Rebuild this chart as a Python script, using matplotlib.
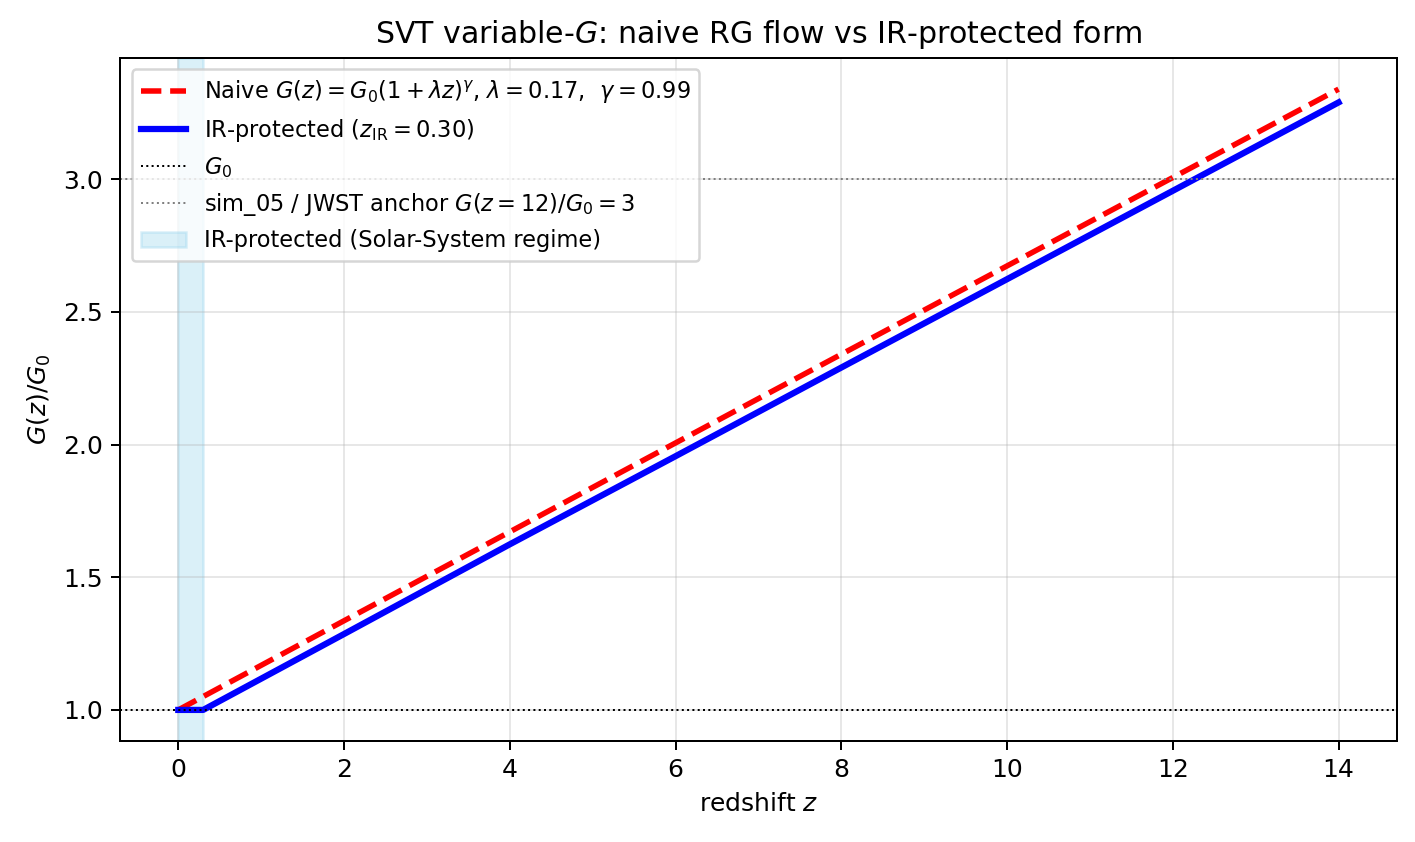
import matplotlib
matplotlib.use("Agg")
import matplotlib.pyplot as plt

# values
z_naive = [0, 2, 4, 6, 8, 10, 12, 14]
G_naive = [1.0, 1.336, 1.671, 2.006, 2.340, 2.673, 3.006, 3.339]

z_ir = [0, 0.3, 2, 4, 6, 8, 10, 12, 14]
G_ir = [1.0, 1.0, 1.286, 1.624, 1.956, 2.290, 2.623, 2.956, 3.289]

lam = 0.17
gam = 0.99
z_IR = 0.30
G_anchor = 3.0

DPI = 180
fig, ax = plt.subplots(figsize=(1415 / DPI, 842 / DPI), dpi=DPI)
fig.subplots_adjust(left=0.085, right=0.987, top=0.931, bottom=0.12)

ax.axvspan(0, z_IR, color="skyblue", alpha=0.3,
           label="IR-protected (Solar-System regime)")
ax.plot(z_naive, G_naive, "r--", lw=2.2,
        label=r"Naive $G(z)=G_0(1+\lambda z)^{\gamma}$, $\lambda=%.2f$,  $\gamma=%.2f$" % (lam, gam))
ax.plot(z_ir, G_ir, "b-", lw=2.5, label=r"IR-protected ($z_{\rm IR}=%.2f$)" % z_IR)
ax.axhline(1.0, color="k", ls=":", lw=0.8, label=r"$G_0$")
ax.axhline(G_anchor, color="grey", ls=":", lw=0.8,
           label=r"sim_05 / JWST anchor $G(z=12)/G_0=3$")

ax.set_xlabel(r"redshift $z$")
ax.set_ylabel(r"$G(z)/G_0$")
ax.set_title(r"SVT variable-$G$: naive RG flow vs IR-protected form")
ax.grid(alpha=0.3)

h, l = ax.get_legend_handles_labels()
order = [1, 2, 3, 4, 0]
ax.legend([h[i] for i in order], [l[i] for i in order], fontsize=9, loc="upper left")

fig.savefig("out.png", dpi=DPI)
